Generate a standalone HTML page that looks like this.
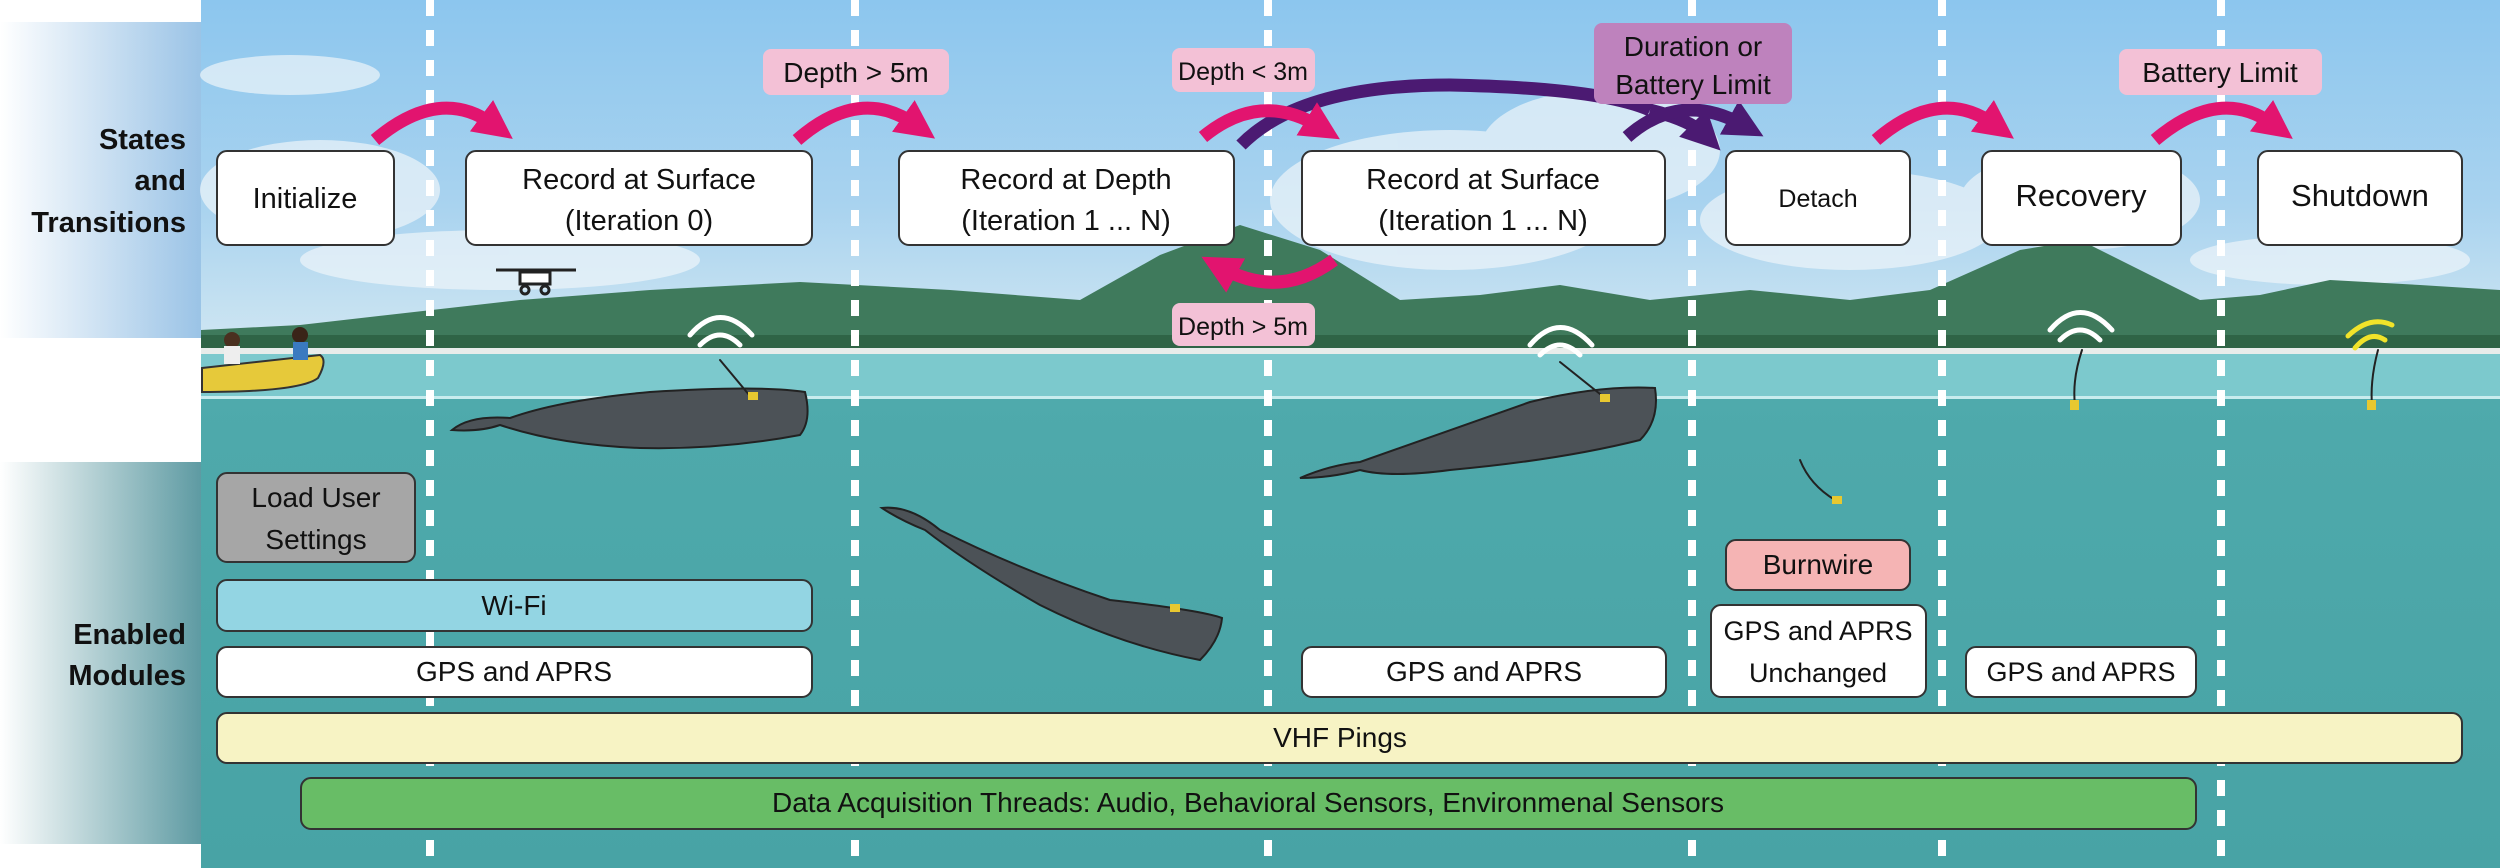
<!DOCTYPE html>
<html><head><meta charset="utf-8"><style>
html,body{margin:0;padding:0;background:#fff;}
svg{display:block;}
text{font-family:"Liberation Sans",sans-serif;}
</style></head><body>
<svg width="2500" height="868" viewBox="0 0 2500 868" xmlns="http://www.w3.org/2000/svg">
<defs>
<linearGradient id="sky" x1="0" y1="0" x2="0" y2="1">
<stop offset="0" stop-color="#8cc6ee"/><stop offset="0.6" stop-color="#a9d3ef"/><stop offset="1" stop-color="#cfe6f2"/>
</linearGradient>
<linearGradient id="sea" x1="0" y1="0" x2="0" y2="1">
<stop offset="0" stop-color="#5bb3b5"/><stop offset="0.5" stop-color="#4ea9ab"/><stop offset="1" stop-color="#48a3a5"/>
</linearGradient>
<linearGradient id="lb1" x1="0" y1="0" x2="1" y2="0">
<stop offset="0" stop-color="#fff"/><stop offset="1" stop-color="#9ac3e6"/>
</linearGradient>
<linearGradient id="lb2" x1="0" y1="0" x2="1" y2="0">
<stop offset="0" stop-color="#fff"/><stop offset="1" stop-color="#5d9aa2"/>
</linearGradient>
<marker id="mh" markerWidth="3" markerHeight="3" refX="1.2" refY="1.5" orient="auto" markerUnits="strokeWidth"><path d="M0,0 L3,1.5 L0,3 Z" fill="#e2146f"/></marker>
<marker id="ph" markerWidth="3" markerHeight="3" refX="1.2" refY="1.5" orient="auto" markerUnits="strokeWidth"><path d="M0,0 L3,1.5 L0,3 Z" fill="#4b1a72"/></marker>
</defs>
<rect x="0" y="22" width="202" height="316" fill="url(#lb1)"/>
<rect x="0" y="462" width="202" height="382" fill="url(#lb2)"/>
<rect x="201" y="0" width="2299" height="868" fill="url(#sea)"/>
<rect x="201" y="0" width="2299" height="345" fill="url(#sky)"/>
<g fill="#eef5fa" opacity="0.7">
<ellipse cx="290" cy="75" rx="90" ry="20"/><ellipse cx="320" cy="190" rx="120" ry="50"/><ellipse cx="500" cy="260" rx="200" ry="30"/>
<ellipse cx="1450" cy="200" rx="180" ry="70"/><ellipse cx="1600" cy="150" rx="120" ry="60"/><ellipse cx="1850" cy="220" rx="150" ry="50"/><ellipse cx="2080" cy="200" rx="120" ry="50"/><ellipse cx="2330" cy="260" rx="140" ry="25"/>
</g>
<path d="M201,330 L300,325 L520,300 L650,290 L800,282 L950,290 L1080,300 L1160,255 L1240,225 L1320,250 L1400,300 L1480,295 L1560,285 L1650,300 L1750,290 L1850,300 L1930,290 L2020,250 L2080,240 L2140,270 L2200,300 L2260,295 L2330,280 L2420,285 L2500,290 L2500,350 L201,350 Z" fill="#3f7a5c"/>
<path d="M201,335 L2500,335 L2500,350 L201,350 Z" fill="#2f6446"/>
<rect x="201" y="348" width="2299" height="6" fill="#e8ecea"/>
<rect x="201" y="354" width="2299" height="44" fill="#7cc9cd"/>
<rect x="201" y="396" width="2299" height="3" fill="#c8ecee"/>
<g stroke="#fff" stroke-width="8" stroke-dasharray="16,14">
<line x1="430" y1="0" x2="430" y2="868"/><line x1="855" y1="0" x2="855" y2="868"/><line x1="1268" y1="0" x2="1268" y2="868"/><line x1="1692" y1="0" x2="1692" y2="868"/><line x1="1942" y1="0" x2="1942" y2="868"/><line x1="2221" y1="0" x2="2221" y2="868"/>
</g>
<path d="M202,368 L320,355 Q328,360 318,378 Q300,392 202,392 Z" fill="#e6c93a" stroke="#333" stroke-width="2"/>
<circle cx="232" cy="340" r="8" fill="#4a3020"/><rect x="224" y="346" width="16" height="18" fill="#eee"/>
<circle cx="300" cy="335" r="8" fill="#3a2418"/><rect x="293" y="342" width="15" height="18" fill="#3a7ac0"/>
<g stroke="#222" stroke-width="3" fill="none"><line x1="496" y1="270" x2="576" y2="270"/><rect x="520" y="272" width="30" height="12" fill="#fff"/><circle cx="525" cy="290" r="4"/><circle cx="545" cy="290" r="4"/></g>
<path d="M452,430 Q470,415 510,418 Q560,400 650,392 Q760,385 805,392 Q812,420 800,435 Q720,450 640,448 Q560,445 500,425 Q480,432 452,430 Z" fill="#4c5257" stroke="#222" stroke-width="2"/>
<path d="M882,508 Q910,505 940,530 Q1020,570 1110,600 Q1200,610 1222,618 Q1220,640 1200,660 Q1120,645 1040,605 Q970,565 925,530 Q900,520 882,508 Z" fill="#4c5257" stroke="#222" stroke-width="2"/>
<path d="M1300,478 Q1330,465 1360,462 Q1450,430 1530,402 Q1600,385 1655,388 Q1660,420 1640,440 Q1560,460 1450,470 Q1390,478 1360,470 Q1330,478 1300,478 Z" fill="#4c5257" stroke="#222" stroke-width="2"/>
<g fill="none" stroke-linecap="round">
<path d="M700,345 Q720,325 740,345" stroke="#fff" stroke-width="5"/><path d="M690,335 Q720,300 752,335" stroke="#fff" stroke-width="5"/>
<line x1="720" y1="360" x2="750" y2="396" stroke="#222" stroke-width="2"/>
<path d="M1540,355 Q1560,335 1580,355" stroke="#fff" stroke-width="5"/><path d="M1530,345 Q1560,310 1592,345" stroke="#fff" stroke-width="5"/>
<line x1="1560" y1="362" x2="1605" y2="398" stroke="#222" stroke-width="2"/>
<path d="M2060,340 Q2080,320 2100,340" stroke="#fff" stroke-width="5"/><path d="M2050,330 Q2080,295 2112,330" stroke="#fff" stroke-width="5"/>
<path d="M2082,350 Q2072,380 2075,405" stroke="#222" stroke-width="2"/>
<path d="M2355,348 Q2370,330 2385,340" stroke="#f1e32a" stroke-width="5"/><path d="M2348,336 Q2370,315 2392,325" stroke="#f1e32a" stroke-width="5"/>
<path d="M2378,350 Q2370,380 2372,405" stroke="#222" stroke-width="2"/>
<path d="M1800,460 Q1810,485 1835,500" stroke="#222" stroke-width="2"/>
</g>
<g fill="#e8c830"><rect x="748" y="392" width="10" height="8"/><rect x="1600" y="394" width="10" height="8"/><rect x="2070" y="400" width="9" height="10"/><rect x="2367" y="400" width="9" height="10"/><rect x="1832" y="496" width="10" height="8"/><rect x="1170" y="604" width="10" height="8"/></g>
<g font-weight="bold" font-size="29" fill="#111" text-anchor="end">
<text x="186" y="149">States</text>
<text x="186" y="190">and</text>
<text x="186" y="232">Transitions</text>
<text x="186" y="644">Enabled</text>
<text x="186" y="685">Modules</text>
</g>
<g fill="#fff" stroke="#333" stroke-width="2">
<rect x="217" y="151" width="177" height="94" rx="10"/>
<rect x="466" y="151" width="346" height="94" rx="10"/>
<rect x="899" y="151" width="335" height="94" rx="10"/>
<rect x="1302" y="151" width="363" height="94" rx="10"/>
<rect x="1726" y="151" width="184" height="94" rx="10"/>
<rect x="1982" y="151" width="199" height="94" rx="10"/>
<rect x="2258" y="151" width="204" height="94" rx="10"/>
</g>
<g font-size="29" fill="#111" text-anchor="middle">
<text x="305" y="208">Initialize</text>
<text x="639" y="189">Record at Surface</text><text x="639" y="230">(Iteration 0)</text>
<text x="1066" y="189">Record at Depth</text><text x="1066" y="230">(Iteration 1 ... N)</text>
<text x="1483" y="189">Record at Surface</text><text x="1483" y="230">(Iteration 1 ... N)</text>
<text x="1818" y="207" font-size="25">Detach</text>
<text x="2081" y="206" font-size="31">Recovery</text>
<text x="2360" y="206" font-size="31">Shutdown</text>
</g>
<g fill="none" stroke-width="13">
<path d="M375,140 Q440,85 494,125" stroke="#e2146f" marker-end="url(#mh)"/>
<path d="M797,140 Q860,85 916,125" stroke="#e2146f" marker-end="url(#mh)"/>
<path d="M1241,145 Q1300,85 1450,85 Q1600,88 1650,110" stroke="#4b1a72"/>
<path d="M1650,110 Q1690,120 1704,134" stroke="#4b1a72" marker-end="url(#ph)"/>
<path d="M1627,137 Q1680,90 1743,125" stroke="#4b1a72" marker-end="url(#ph)"/>
<path d="M1203,137 Q1260,90 1320,127" stroke="#e2146f" marker-end="url(#mh)"/>
<path d="M1334,260 Q1280,300 1222,268" stroke="#e2146f" marker-end="url(#mh)"/>
<path d="M1876,140 Q1940,85 1995,125" stroke="#e2146f" marker-end="url(#mh)"/>
<path d="M2155,140 Q2220,85 2274,125" stroke="#e2146f" marker-end="url(#mh)"/>
</g>
<g fill="#f3c1d6"><rect x="763" y="49" width="186" height="46" rx="8"/><rect x="1172" y="48" width="143" height="44" rx="8"/><rect x="1172" y="303" width="143" height="43" rx="8"/><rect x="2119" y="49" width="203" height="46" rx="8"/></g>
<rect x="1594" y="23" width="198" height="81" rx="8" fill="#be82bd"/>
<g font-size="28" fill="#111" text-anchor="middle">
<text x="856" y="82">Depth &gt; 5m</text>
<text x="1243" y="80" font-size="25">Depth &lt; 3m</text>
<text x="1243" y="335" font-size="25">Depth &gt; 5m</text>
<text x="2220" y="82">Battery Limit</text>
<text x="1693" y="56">Duration or</text>
<text x="1693" y="94">Battery Limit</text>
</g>
<rect x="217" y="473" width="198" height="89" rx="10" fill="#a6a6a6" stroke="#333" stroke-width="2"/>
<rect x="217" y="580" width="595" height="51" rx="10" fill="#93d5e3" stroke="#333" stroke-width="2"/>
<g fill="#fff" stroke="#333" stroke-width="2">
<rect x="217" y="647" width="595" height="50" rx="10"/>
<rect x="1302" y="647" width="364" height="50" rx="10"/>
<rect x="1711" y="605" width="215" height="92" rx="10"/>
<rect x="1966" y="647" width="230" height="50" rx="10"/>
</g>
<rect x="1726" y="540" width="184" height="50" rx="10" fill="#f5b4b4" stroke="#333" stroke-width="2"/>
<rect x="217" y="713" width="2245" height="50" rx="10" fill="#f7f3c4" stroke="#333" stroke-width="2"/>
<rect x="301" y="778" width="1895" height="51" rx="10" fill="#68bd66" stroke="#333" stroke-width="2"/>
<g font-size="28" fill="#111" text-anchor="middle">
<text x="316" y="507">Load User</text><text x="316" y="549">Settings</text>
<text x="514" y="615">Wi-Fi</text>
<text x="514" y="681">GPS and APRS</text>
<text x="1484" y="681">GPS and APRS</text>
<text x="1818" y="640" font-size="27">GPS and APRS</text><text x="1818" y="682" font-size="27">Unchanged</text>
<text x="2081" y="681" font-size="27">GPS and APRS</text>
<text x="1818" y="574">Burnwire</text>
<text x="1340" y="747">VHF Pings</text>
<text x="1248" y="812">Data Acquisition  Threads: Audio, Behavioral Sensors, Environmenal Sensors</text>
</g>
</svg>
</body></html>
